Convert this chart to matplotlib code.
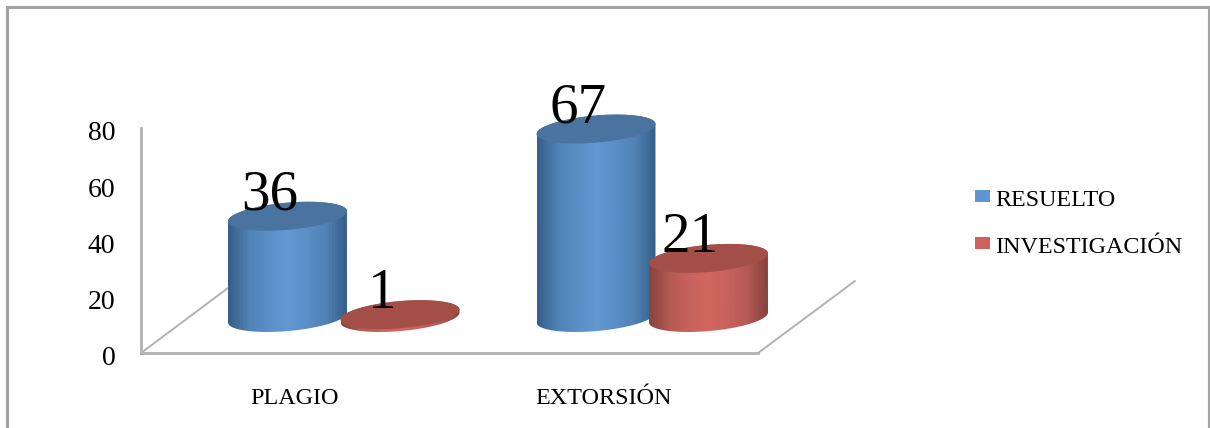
import numpy as np
import matplotlib
matplotlib.use("Agg")
import matplotlib.pyplot as plt
from matplotlib.patches import Patch, PathPatch
from matplotlib.path import Path
from matplotlib.colors import LinearSegmentedColormap
from matplotlib.transforms import ScaledTranslation
from matplotlib.legend_handler import HandlerPatch

categories = ["PLAGIO", "EXTORSIÓN"]
series_names = ["RESUELTO", "INVESTIGACIÓN"]
resuelto = [36, 67]
investigacion = [1, 21]
y_ticks = [0, 20, 40, 60, 80]

W, H = 1210, 428
PX_PER_UNIT = 2.8125
Y0_PX = 353
FONT = "Liberation Serif"

plt.rcParams["font.family"] = [FONT, "DejaVu Serif"]
fig = plt.figure(figsize=(W / 100, H / 100), dpi=100, facecolor="white")
ax = fig.add_axes([0, 0, 1, 1], facecolor="none")
ax.set_xlim(0, W)
ax.set_ylim((Y0_PX - H) / PX_PER_UNIT, Y0_PX / PX_PER_UNIT)

GREY = "#b2b2b2"
for s in ("top", "right"):
    ax.spines[s].set_visible(False)
ax.spines["left"].set_position(("data", 141))
ax.spines["left"].set_bounds(0, 80)
ax.spines["bottom"].set_position(("data", 0))
ax.spines["bottom"].set_bounds(141, 758)
for s in ("left", "bottom"):
    ax.spines[s].set_color(GREY)
    ax.spines[s].set_linewidth(2.0)

cat_x = np.array([295, 603.5])
ax.set_yticks(y_ticks)
ax.set_xticks(cat_x, categories)
ax.tick_params(axis="y", length=0, pad=18.5, labelsize=20)
ax.tick_params(axis="x", length=0, pad=25.5, labelsize=17.4)
shift = ScaledTranslation(0, -2 / 72, fig.dpi_scale_trans)
for lab in ax.get_yticklabels():
    lab.set_transform(lab.get_transform() + shift)

# depth lines of the floor
u = lambda px: (Y0_PX - px) / PX_PER_UNIT
ax.plot([141, 228], [u(353), u(288)], color=GREY, lw=1.4, zorder=1, solid_capstyle="round")
ax.plot([758, 855], [u(353), u(281)], color=GREY, lw=1.4, zorder=1, solid_capstyle="round")

# frame
for xs, ys in (([6.5, 1208.5], [6.5, 6.5]), ([6.5, 6.5], [6.5, 428]), ([1208.5, 1208.5], [6.5, 428])):
    ax.plot(xs, [u(v) for v in ys], color="#a3a3a3", lw=2.2, zorder=1, solid_capstyle="projecting")

RX = 59.5
BASE = u(317.5)
BY = 13.6 / PX_PER_UNIT
SY = 5.0 / PX_PER_UNIT


def ellipse(cx, cy, t):
    return cx + RX * np.cos(t), cy + BY * np.sin(t) + SY * np.cos(t)


def cylinder(cx, value, side_stops, top_col, z):
    top = BASE + value
    bx, by = ellipse(cx, BASE, np.linspace(np.pi, 2 * np.pi, 80))
    tx, ty = ellipse(cx, top, np.linspace(0, np.pi, 80))
    xs = np.r_[bx, tx]
    ys = np.r_[by, ty]
    cmap = LinearSegmentedColormap.from_list("c", side_stops, N=40)
    patch = PathPatch(Path(np.c_[xs, ys]), fc="none", ec="none", zorder=z)
    ax.add_patch(patch)
    grad = np.linspace(0, 1, 256)[None, :]
    im = ax.imshow(grad, cmap=cmap, extent=(cx - RX, cx + RX, ys.min(), ys.max()),
                   aspect="auto", zorder=z, interpolation="bilinear")
    im.set_clip_path(patch)
    ex, ey = ellipse(cx, top, np.linspace(0, 2 * np.pi, 200))
    ax.fill(ex, ey, color=top_col, zorder=z + 0.1, lw=0)


blue_side = ["#37608a", "#4f82b5", "#5a8fc6", "#6299d2", "#5a8fc6", "#4f82b5", "#37608a"]
red_side = ["#8a443f", "#b65a54", "#c7625c", "#d2675f", "#c7625c", "#b65a54", "#8a443f"]
BLUE_TOP = "#4b739f"
RED_TOP = "#a34f48"

centres_blue = cat_x - 7.5
centres_red = cat_x + 105

for i in range(len(categories)):
    cylinder(centres_blue[i], resuelto[i], blue_side, BLUE_TOP, 3 + i * 2)
    cylinder(centres_red[i], investigacion[i], red_side, RED_TOP, 4 + i * 2)

# imshow resets the limits
ax.set_xlim(0, W)
ax.set_ylim((Y0_PX - H) / PX_PER_UNIT, Y0_PX / PX_PER_UNIT)

for centres, vals in ((centres_blue, resuelto), (centres_red, investigacion)):
    for cx, v in zip(centres, vals):
        ax.annotate(str(v), (cx, BASE + v), xytext=(-13, 15), textcoords="offset points",
                    ha="center", va="center", fontsize=41, color="black", zorder=20)

handles = [Patch(fc="#5f96cf", ec="none"), Patch(fc="#cd625c", ec="none")]
leg = ax.legend(handles, series_names, loc="center left",
                bbox_to_anchor=(975 / W, 1 - 224 / H), frameon=False,
                fontsize=17.3, handlelength=0.62, handleheight=0.62,
                handletextpad=0.22, labelspacing=1.1, borderpad=0, borderaxespad=0,
                handler_map={Patch: HandlerPatch(ypad=0.14)})

fig.savefig("out.png", dpi=100)
